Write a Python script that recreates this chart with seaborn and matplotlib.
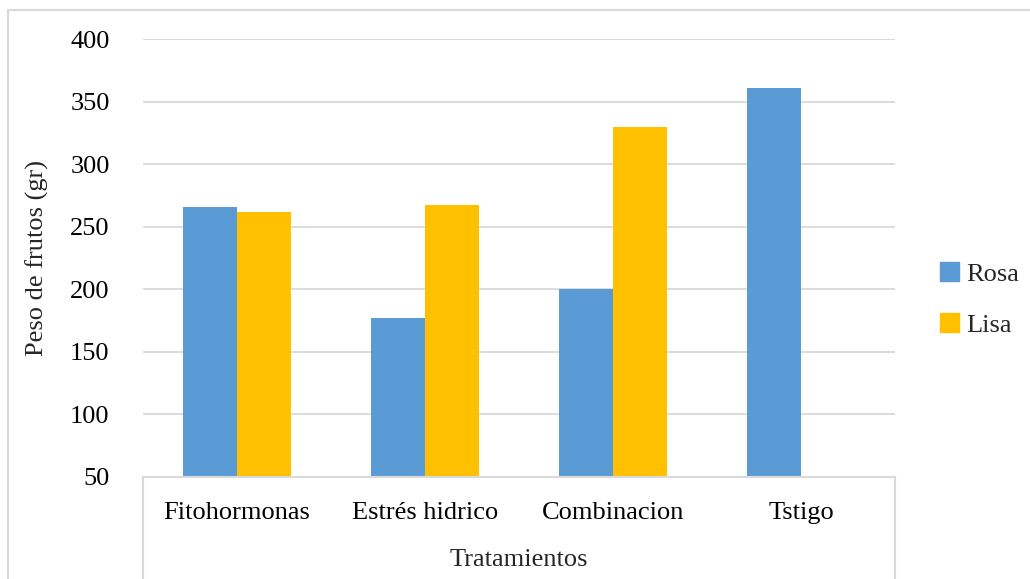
import matplotlib
matplotlib.use("Agg")
import matplotlib.pyplot as plt
import seaborn as sns
import pandas as pd
from matplotlib.patches import Rectangle

# data
tratamientos = ["Fitohormonas", "Estrés hidrico", "Combinacion", "Tstigo"]
rosa = [266, 177, 200, 361]
lisa = [262, 267, 330, 50]
series = ["Rosa", "Lisa"]
colors = {"Rosa": "#5B9BD5", "Lisa": "#FFC000"}
yticks = [50, 100, 150, 200, 250, 300, 350, 400]

df = pd.DataFrame({
    "Tratamientos": tratamientos * 2,
    "Peso": rosa + lisa,
    "Serie": ["Rosa"] * len(rosa) + ["Lisa"] * len(lisa),
})

sns.set_theme(style="white")
plt.rcParams["font.family"] = ["Liberation Serif", "DejaVu Serif"]
FS = 19

fig = plt.figure(figsize=(10.30, 5.79), dpi=100)
ax = fig.add_axes([0.1388, 0.1762, 0.7301, 0.7564])

sns.barplot(data=df, x="Tratamientos", y="Peso", hue="Serie", hue_order=series,
            palette=colors, width=0.575, gap=0, saturation=1, ax=ax,
            linewidth=0, legend=False)

ax.set_ylim(50, 400)
ax.set_yticks(yticks)
ax.set_xlim(-0.5, 3.5)
ax.yaxis.grid(True, color="#d9d9d9", linewidth=1.3)
ax.set_axisbelow(True)
for s in ["top", "right", "left"]:
    ax.spines[s].set_visible(False)
ax.spines["bottom"].set_color("#d9d9d9")
ax.spines["bottom"].set_linewidth(1.5)
ax.tick_params(axis="both", length=0, labelsize=FS, colors="black")
ax.tick_params(axis="y", pad=24)
ax.tick_params(axis="x", pad=18)
ax.set_ylabel("Peso de frutos (gr)", fontsize=FS, labelpad=15)
ax.set_xlabel("Tratamientos", fontsize=FS, labelpad=18)

# category axis box edges going down
for xf in [0.1388, 0.8689]:
    fig.add_artist(plt.Line2D([xf, xf], [0.0, 0.1762], color="#d9d9d9",
                              linewidth=1.5, transform=fig.transFigure))

# chart outer border
fig.add_artist(Rectangle((8 / 1030, -0.05), 1.2, 1 - 10 / 579 + 0.05,
                         transform=fig.transFigure, fill=False,
                         edgecolor="#d9d9d9", linewidth=1.5))

handles = [Rectangle((0, 0), 1, 1, color=colors[s]) for s in series]
ax.legend(handles, series, loc="center left", bbox_to_anchor=(1.06, 0.405),
          frameon=False, fontsize=FS, handlelength=0.7, handleheight=0.7,
          handletextpad=0.3, labelspacing=1.05, borderpad=0, borderaxespad=0)

fig.savefig("out.png", dpi=100)
